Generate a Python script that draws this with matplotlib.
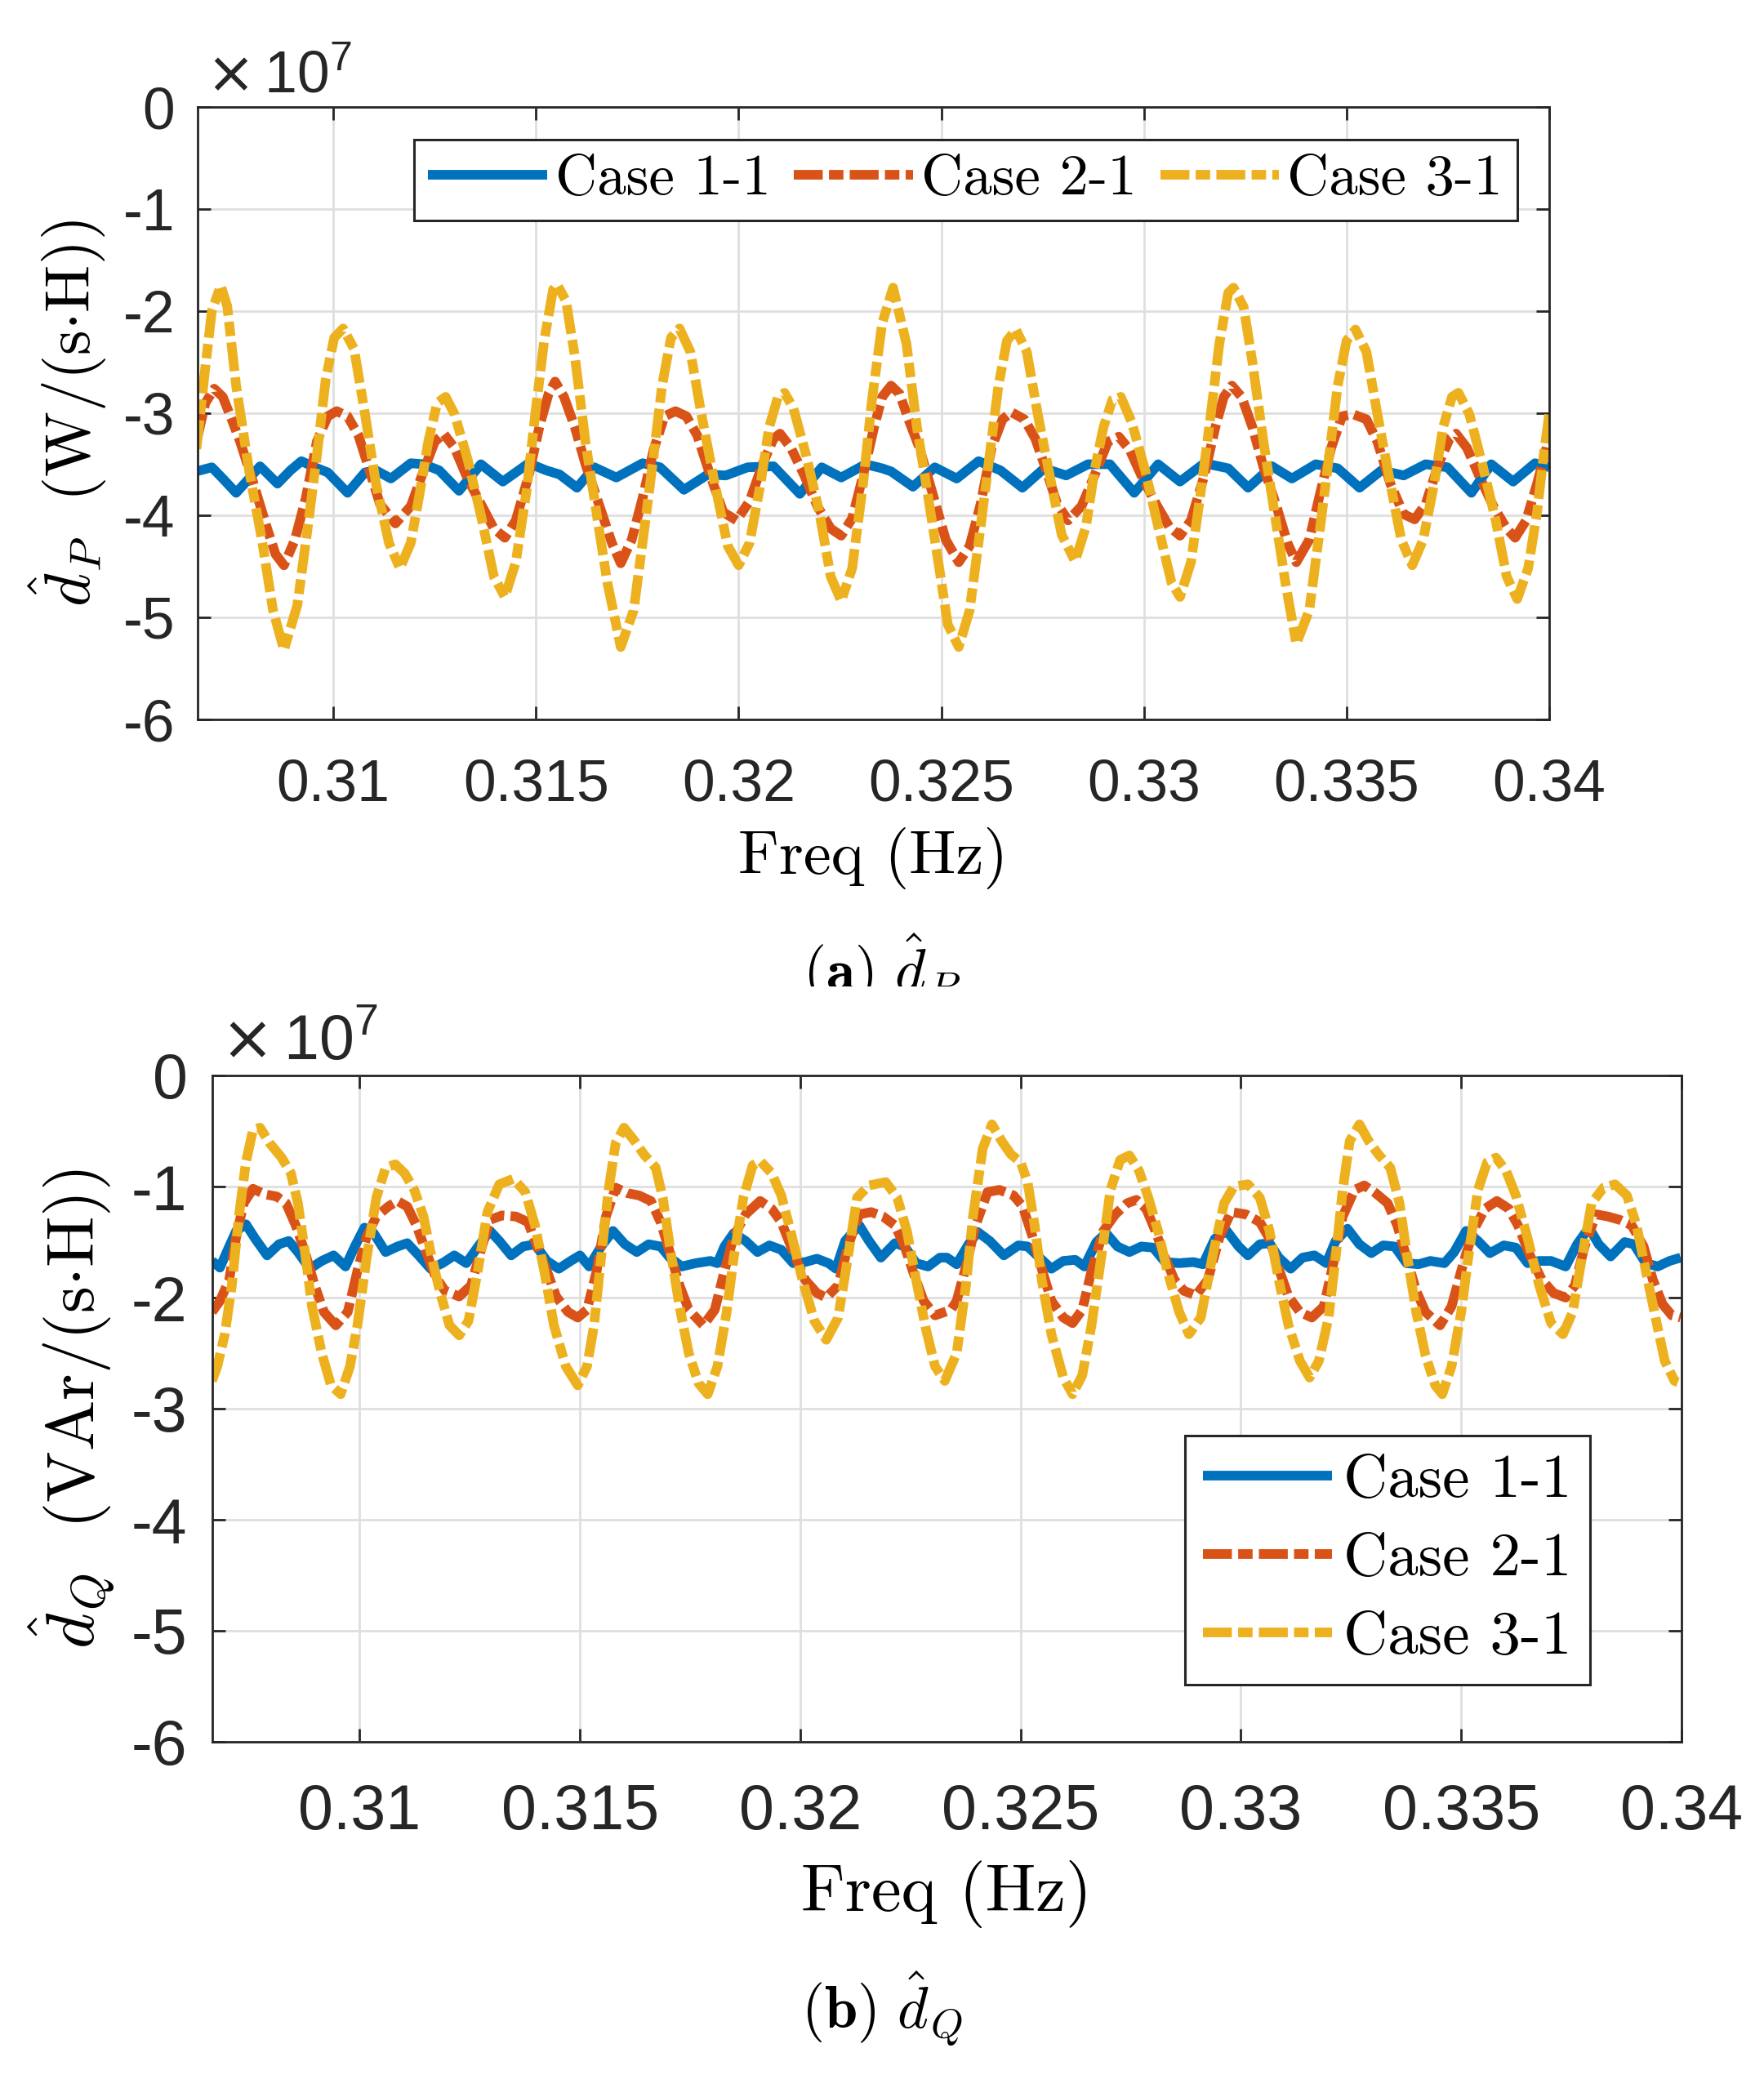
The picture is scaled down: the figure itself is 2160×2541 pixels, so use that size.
import numpy as np
import matplotlib
matplotlib.use("Agg")
import matplotlib.pyplot as plt
from matplotlib.ticker import FuncFormatter, MultipleLocator
from matplotlib.patches import Rectangle
from matplotlib.font_manager import FontProperties

plt.rcParams['font.family'] = ['Liberation Sans', 'DejaVu Sans']
plt.rcParams['mathtext.fontset'] = 'cm'
plt.rcParams['axes.unicode_minus'] = False

Y_SCALE = 1e7  # values below are read in units of 1e7

# ---------------- (a) d_P ----------------
freq_p1 = [0.30662, 0.30700, 0.30727, 0.30760, 0.30792, 0.30819, 0.30862, 0.30894, 0.30921, 0.30954,
           0.30986, 0.31035, 0.31078, 0.31105, 0.31142, 0.31191, 0.31223, 0.31261, 0.31310, 0.31364,
           0.31418, 0.31482, 0.31525, 0.31558, 0.31601, 0.31644, 0.31698, 0.31763, 0.31806, 0.31865,
           0.31924, 0.31968, 0.32022, 0.32086, 0.32151, 0.32205, 0.32253, 0.32313, 0.32354, 0.32376,
           0.32430, 0.32484, 0.32538, 0.32592, 0.32646, 0.32700, 0.32754, 0.32808, 0.32862, 0.32916,
           0.32976, 0.33035, 0.33089, 0.33149, 0.33208, 0.33257, 0.33316, 0.33365, 0.33424, 0.33478,
           0.33532, 0.33586, 0.33641, 0.33695, 0.33749, 0.33808, 0.33857, 0.33911, 0.33965, 0.34000]
dp_case1 = [-3.57, -3.53, -3.64, -3.78, -3.64, -3.52, -3.69, -3.56, -3.47, -3.53,
            -3.58, -3.78, -3.58, -3.56, -3.64, -3.49, -3.50, -3.56, -3.76, -3.50,
            -3.67, -3.49, -3.56, -3.60, -3.73, -3.53, -3.63, -3.49, -3.53, -3.75,
            -3.60, -3.61, -3.53, -3.52, -3.79, -3.53, -3.63, -3.50, -3.54, -3.57,
            -3.72, -3.53, -3.64, -3.47, -3.56, -3.73, -3.54, -3.61, -3.50, -3.50,
            -3.78, -3.50, -3.67, -3.49, -3.54, -3.73, -3.52, -3.64, -3.50, -3.54,
            -3.73, -3.56, -3.61, -3.50, -3.53, -3.78, -3.50, -3.67, -3.49, -3.53]

freq_p2 = [0.30662, 0.30684, 0.30706, 0.30727, 0.30749, 0.30770, 0.30803, 0.30835, 0.30857, 0.30878,
           0.30905, 0.30932, 0.30959, 0.30986, 0.31008, 0.31035, 0.31062, 0.31089, 0.31115, 0.31153,
           0.31191, 0.31223, 0.31250, 0.31272, 0.31299, 0.31331, 0.31364, 0.31396, 0.31423, 0.31450,
           0.31482, 0.31509, 0.31531, 0.31547, 0.31569, 0.31596, 0.31622, 0.31655, 0.31687, 0.31709,
           0.31736, 0.31763, 0.31790, 0.31817, 0.31844, 0.31871, 0.31898, 0.31930, 0.31962, 0.31995,
           0.32027, 0.32059, 0.32086, 0.32102, 0.32129, 0.32162, 0.32194, 0.32227, 0.32253, 0.32280,
           0.32307, 0.32334, 0.32354, 0.32376, 0.32397, 0.32419, 0.32446, 0.32478, 0.32511, 0.32543,
           0.32570, 0.32597, 0.32624, 0.32651, 0.32673, 0.32705, 0.32732, 0.32759, 0.32786, 0.32813,
           0.32846, 0.32878, 0.32911, 0.32938, 0.32965, 0.32997, 0.33030, 0.33062, 0.33089, 0.33116,
           0.33149, 0.33176, 0.33197, 0.33217, 0.33241, 0.33268, 0.33295, 0.33327, 0.33354, 0.33376,
           0.33408, 0.33435, 0.33462, 0.33489, 0.33516, 0.33549, 0.33576, 0.33608, 0.33641, 0.33668,
           0.33695, 0.33727, 0.33754, 0.33770, 0.33797, 0.33830, 0.33862, 0.33895, 0.33916, 0.33943,
           0.33970, 0.33992, 0.34000]
dp_case2 = [-3.28, -2.90, -2.76, -2.84, -3.06, -3.28, -3.69, -4.11, -4.38, -4.49,
            -4.24, -3.83, -3.28, -3.03, -2.98, -3.03, -3.22, -3.56, -3.89, -4.08,
            -3.91, -3.56, -3.28, -3.20, -3.34, -3.64, -3.89, -4.13, -4.22, -4.05,
            -3.61, -3.12, -2.81, -2.69, -2.84, -3.14, -3.50, -3.89, -4.27, -4.47,
            -4.24, -3.83, -3.36, -3.03, -2.98, -3.03, -3.22, -3.61, -3.97, -4.05,
            -3.86, -3.50, -3.25, -3.20, -3.34, -3.61, -3.91, -4.13, -4.20, -4.03,
            -3.61, -3.14, -2.84, -2.73, -2.81, -3.06, -3.34, -3.78, -4.24, -4.46,
            -4.30, -3.89, -3.34, -3.06, -2.99, -3.06, -3.25, -3.56, -3.89, -4.05,
            -3.91, -3.61, -3.28, -3.23, -3.36, -3.64, -3.89, -4.11, -4.20, -4.05,
            -3.61, -3.14, -2.84, -2.73, -2.84, -3.14, -3.53, -3.91, -4.27, -4.46,
            -4.24, -3.78, -3.34, -3.03, -3.01, -3.06, -3.28, -3.69, -3.99, -4.04,
            -3.89, -3.50, -3.25, -3.20, -3.34, -3.64, -3.91, -4.13, -4.22, -4.05,
            -3.69, -3.36, -3.22]

freq_p3 = [0.30662, 0.30684, 0.30700, 0.30722, 0.30738, 0.30760, 0.30792, 0.30824, 0.30851, 0.30878,
           0.30911, 0.30937, 0.30959, 0.30981, 0.31002, 0.31024, 0.31051, 0.31078, 0.31105, 0.31137,
           0.31164, 0.31191, 0.31213, 0.31234, 0.31256, 0.31277, 0.31299, 0.31331, 0.31364, 0.31396,
           0.31423, 0.31450, 0.31477, 0.31498, 0.31520, 0.31542, 0.31552, 0.31574, 0.31596, 0.31622,
           0.31649, 0.31676, 0.31709, 0.31741, 0.31768, 0.31790, 0.31811, 0.31833, 0.31854, 0.31881,
           0.31908, 0.31941, 0.31973, 0.32000, 0.32027, 0.32054, 0.32075, 0.32097, 0.32113, 0.32135,
           0.32167, 0.32199, 0.32227, 0.32253, 0.32280, 0.32307, 0.32329, 0.32354, 0.32381, 0.32414,
           0.32440, 0.32468, 0.32495, 0.32516, 0.32543, 0.32570, 0.32597, 0.32619, 0.32641, 0.32662,
           0.32684, 0.32711, 0.32738, 0.32765, 0.32797, 0.32830, 0.32857, 0.32878, 0.32900, 0.32922,
           0.32943, 0.32970, 0.33003, 0.33035, 0.33068, 0.33089, 0.33116, 0.33143, 0.33165, 0.33186,
           0.33208, 0.33221, 0.33246, 0.33268, 0.33295, 0.33322, 0.33349, 0.33376, 0.33408, 0.33435,
           0.33457, 0.33478, 0.33500, 0.33522, 0.33549, 0.33576, 0.33608, 0.33635, 0.33662, 0.33689,
           0.33716, 0.33738, 0.33760, 0.33776, 0.33803, 0.33835, 0.33868, 0.33895, 0.33921, 0.33948,
           0.33970, 0.33986, 0.34000]
dp_case3 = [-3.35, -2.55, -2.00, -1.75, -1.95, -2.73, -3.56, -4.25, -4.93, -5.32,
            -4.88, -4.11, -3.42, -2.67, -2.26, -2.17, -2.37, -3.01, -3.69, -4.27,
            -4.52, -4.27, -3.78, -3.28, -2.90, -2.84, -3.01, -3.45, -4.00, -4.60,
            -4.80, -4.46, -3.75, -3.01, -2.29, -1.79, -1.74, -1.90, -2.45, -3.28,
            -3.97, -4.66, -5.29, -4.93, -4.11, -3.42, -2.73, -2.26, -2.17, -2.40,
            -3.01, -3.69, -4.30, -4.49, -4.27, -3.69, -3.14, -2.84, -2.80, -2.95,
            -3.42, -3.97, -4.60, -4.84, -4.52, -3.69, -2.87, -2.12, -1.77, -2.32,
            -3.14, -3.83, -4.52, -5.07, -5.29, -4.93, -4.11, -3.42, -2.73, -2.29,
            -2.18, -2.40, -3.01, -3.56, -4.19, -4.45, -4.11, -3.56, -3.14, -2.87,
            -2.84, -3.09, -3.56, -4.11, -4.66, -4.80, -4.46, -3.69, -3.01, -2.32,
            -1.82, -1.77, -1.96, -2.51, -3.28, -3.97, -4.66, -5.26, -4.93, -4.11,
            -3.42, -2.73, -2.29, -2.18, -2.40, -3.01, -3.69, -4.24, -4.49, -4.24,
            -3.69, -3.14, -2.84, -2.80, -3.01, -3.50, -4.05, -4.60, -4.82, -4.52,
            -3.97, -3.42, -3.01]

# ---------------- (b) d_Q ----------------
freq_q1 = [0.30665, 0.30683, 0.30704, 0.30720, 0.30742, 0.30763, 0.30790, 0.30817, 0.30839, 0.30860,
           0.30887, 0.30914, 0.30941, 0.30968, 0.30989, 0.31011, 0.31032, 0.31059, 0.31086, 0.31108,
           0.31134, 0.31161, 0.31188, 0.31215, 0.31242, 0.31269, 0.31296, 0.31317, 0.31344, 0.31371,
           0.31398, 0.31425, 0.31452, 0.31479, 0.31500, 0.31521, 0.31548, 0.31575, 0.31602, 0.31629,
           0.31656, 0.31683, 0.31704, 0.31731, 0.31763, 0.31796, 0.31812, 0.31828, 0.31849, 0.31876,
           0.31903, 0.31930, 0.31957, 0.31984, 0.32011, 0.32038, 0.32064, 0.32081, 0.32102, 0.32134,
           0.32156, 0.32183, 0.32215, 0.32237, 0.32263, 0.32290, 0.32317, 0.32333, 0.32355, 0.32382,
           0.32403, 0.32430, 0.32462, 0.32495, 0.32516, 0.32543, 0.32570, 0.32597, 0.32624, 0.32645,
           0.32672, 0.32694, 0.32720, 0.32747, 0.32774, 0.32801, 0.32828, 0.32860, 0.32892, 0.32914,
           0.32941, 0.32968, 0.32995, 0.33016, 0.33043, 0.33065, 0.33086, 0.33113, 0.33140, 0.33167,
           0.33194, 0.33215, 0.33242, 0.33269, 0.33296, 0.33323, 0.33349, 0.33376, 0.33403, 0.33430,
           0.33462, 0.33484, 0.33511, 0.33538, 0.33565, 0.33597, 0.33624, 0.33651, 0.33677, 0.33704,
           0.33737, 0.33763, 0.33790, 0.33812, 0.33839, 0.33871, 0.33892, 0.33919, 0.33946, 0.33973,
           0.33998]
dq_case1 = [-1.67, -1.73, -1.54, -1.40, -1.34, -1.47, -1.62, -1.52, -1.49, -1.59,
            -1.74, -1.67, -1.62, -1.72, -1.54, -1.37, -1.42, -1.59, -1.54, -1.51,
            -1.62, -1.74, -1.69, -1.62, -1.69, -1.54, -1.40, -1.49, -1.62, -1.54,
            -1.52, -1.67, -1.74, -1.67, -1.62, -1.72, -1.54, -1.40, -1.52, -1.59,
            -1.52, -1.54, -1.64, -1.72, -1.69, -1.67, -1.69, -1.54, -1.42, -1.49,
            -1.59, -1.53, -1.57, -1.69, -1.68, -1.65, -1.69, -1.74, -1.49, -1.35,
            -1.49, -1.64, -1.51, -1.54, -1.69, -1.72, -1.64, -1.64, -1.70, -1.52,
            -1.41, -1.49, -1.62, -1.53, -1.54, -1.64, -1.74, -1.67, -1.66, -1.72,
            -1.50, -1.42, -1.54, -1.59, -1.54, -1.55, -1.68, -1.69, -1.68, -1.70,
            -1.47, -1.40, -1.54, -1.62, -1.52, -1.51, -1.64, -1.74, -1.64, -1.62,
            -1.69, -1.49, -1.38, -1.52, -1.60, -1.53, -1.54, -1.69, -1.70, -1.67,
            -1.69, -1.59, -1.40, -1.49, -1.60, -1.53, -1.55, -1.69, -1.67, -1.67,
            -1.72, -1.52, -1.37, -1.52, -1.63, -1.50, -1.52, -1.69, -1.72, -1.67,
            -1.64]

freq_q2 = [0.30665, 0.30683, 0.30704, 0.30720, 0.30737, 0.30758, 0.30785, 0.30812, 0.30833, 0.30855,
           0.30876, 0.30898, 0.30919, 0.30946, 0.30973, 0.30995, 0.31016, 0.31038, 0.31065, 0.31086,
           0.31108, 0.31129, 0.31151, 0.31172, 0.31194, 0.31226, 0.31253, 0.31274, 0.31296, 0.31323,
           0.31355, 0.31382, 0.31403, 0.31425, 0.31446, 0.31473, 0.31495, 0.31516, 0.31538, 0.31559,
           0.31581, 0.31608, 0.31634, 0.31661, 0.31683, 0.31704, 0.31726, 0.31747, 0.31780, 0.31806,
           0.31828, 0.31849, 0.31876, 0.31909, 0.31935, 0.31957, 0.31984, 0.32011, 0.32038, 0.32059,
           0.32086, 0.32108, 0.32134, 0.32161, 0.32188, 0.32215, 0.32237, 0.32258, 0.32280, 0.32306,
           0.32342, 0.32355, 0.32376, 0.32398, 0.32425, 0.32452, 0.32484, 0.32505, 0.32527, 0.32548,
           0.32570, 0.32597, 0.32618, 0.32640, 0.32661, 0.32688, 0.32715, 0.32742, 0.32763, 0.32785,
           0.32806, 0.32828, 0.32849, 0.32871, 0.32898, 0.32925, 0.32952, 0.32978, 0.33011, 0.33043,
           0.33065, 0.33086, 0.33108, 0.33134, 0.33161, 0.33188, 0.33210, 0.33231, 0.33258, 0.33280,
           0.33306, 0.33333, 0.33355, 0.33376, 0.33398, 0.33419, 0.33452, 0.33478, 0.33500, 0.33527,
           0.33554, 0.33581, 0.33608, 0.33629, 0.33656, 0.33683, 0.33710, 0.33737, 0.33758, 0.33780,
           0.33806, 0.33833, 0.33860, 0.33887, 0.33914, 0.33935, 0.33957, 0.33978, 0.33998]
dq_case2 = [-2.13, -2.03, -1.84, -1.45, -1.15, -1.02, -1.07, -1.09, -1.15, -1.35,
            -1.59, -1.89, -2.13, -2.25, -2.13, -1.76, -1.45, -1.27, -1.18, -1.13,
            -1.18, -1.35, -1.59, -1.81, -1.94, -1.99, -1.89, -1.59, -1.30, -1.26,
            -1.27, -1.32, -1.54, -1.76, -1.99, -2.13, -2.18, -2.11, -1.76, -1.27,
            -1.01, -1.06, -1.08, -1.13, -1.32, -1.59, -1.89, -2.11, -2.25, -2.11,
            -1.76, -1.45, -1.25, -1.13, -1.20, -1.32, -1.59, -1.84, -1.96, -2.00,
            -1.89, -1.54, -1.25, -1.23, -1.27, -1.35, -1.54, -1.79, -2.03, -2.16,
            -2.11, -2.03, -1.72, -1.35, -1.05, -1.03, -1.08, -1.18, -1.45, -1.74,
            -2.03, -2.18, -2.23, -2.11, -1.76, -1.40, -1.25, -1.15, -1.12, -1.20,
            -1.40, -1.64, -1.84, -1.94, -1.98, -1.84, -1.45, -1.23, -1.25, -1.32,
            -1.47, -1.74, -1.99, -2.13, -2.18, -2.08, -1.69, -1.27, -1.03, -0.99,
            -1.06, -1.15, -1.35, -1.64, -1.94, -2.13, -2.25, -2.08, -1.76, -1.40,
            -1.20, -1.13, -1.20, -1.35, -1.62, -1.84, -1.96, -2.00, -1.89, -1.54,
            -1.25, -1.27, -1.30, -1.35, -1.54, -1.84, -2.06, -2.16, -2.18]

freq_q3 = [0.30665, 0.30677, 0.30694, 0.30710, 0.30726, 0.30742, 0.30758, 0.30774, 0.30796, 0.30823,
           0.30844, 0.30860, 0.30876, 0.30892, 0.30914, 0.30935, 0.30957, 0.30978, 0.30995, 0.31016,
           0.31038, 0.31059, 0.31081, 0.31102, 0.31124, 0.31145, 0.31161, 0.31183, 0.31204, 0.31226,
           0.31247, 0.31269, 0.31290, 0.31317, 0.31349, 0.31376, 0.31398, 0.31419, 0.31441, 0.31468,
           0.31495, 0.31516, 0.31532, 0.31548, 0.31565, 0.31581, 0.31600, 0.31624, 0.31645, 0.31672,
           0.31688, 0.31704, 0.31726, 0.31747, 0.31769, 0.31790, 0.31812, 0.31833, 0.31849, 0.31871,
           0.31892, 0.31909, 0.31935, 0.31957, 0.31978, 0.32005, 0.32032, 0.32059, 0.32086, 0.32108,
           0.32129, 0.32156, 0.32194, 0.32220, 0.32242, 0.32263, 0.32285, 0.32306, 0.32328, 0.32355,
           0.32376, 0.32392, 0.32414, 0.32435, 0.32457, 0.32478, 0.32500, 0.32516, 0.32532, 0.32548,
           0.32570, 0.32597, 0.32618, 0.32640, 0.32661, 0.32683, 0.32704, 0.32726, 0.32747, 0.32769,
           0.32790, 0.32812, 0.32833, 0.32860, 0.32882, 0.32909, 0.32935, 0.32962, 0.32984, 0.33016,
           0.33043, 0.33065, 0.33086, 0.33108, 0.33134, 0.33156, 0.33177, 0.33199, 0.33215, 0.33231,
           0.33247, 0.33269, 0.33290, 0.33312, 0.33339, 0.33360, 0.33376, 0.33398, 0.33419, 0.33441,
           0.33457, 0.33478, 0.33500, 0.33516, 0.33538, 0.33559, 0.33579, 0.33602, 0.33624, 0.33651,
           0.33677, 0.33704, 0.33731, 0.33753, 0.33774, 0.33796, 0.33823, 0.33849, 0.33876, 0.33898,
           0.33919, 0.33941, 0.33962, 0.33984, 0.33998]
dq_case3 = [-2.75, -2.62, -2.33, -1.89, -1.27, -0.78, -0.49, -0.47, -0.61, -0.74,
            -0.88, -1.15, -1.59, -2.08, -2.50, -2.79, -2.87, -2.62, -2.25, -1.64,
            -1.10, -0.83, -0.80, -0.88, -1.03, -1.27, -1.59, -1.96, -2.25, -2.34,
            -2.21, -1.74, -1.23, -0.98, -0.93, -1.05, -1.35, -1.76, -2.25, -2.62,
            -2.79, -2.62, -2.25, -1.64, -1.03, -0.61, -0.47, -0.59, -0.71, -0.83,
            -1.10, -1.54, -2.08, -2.50, -2.77, -2.87, -2.62, -2.13, -1.64, -1.10,
            -0.81, -0.77, -0.88, -1.08, -1.40, -1.84, -2.21, -2.38, -2.18, -1.64,
            -1.10, -0.99, -0.96, -1.10, -1.40, -1.84, -2.28, -2.62, -2.75, -2.50,
            -1.89, -1.27, -0.66, -0.44, -0.59, -0.71, -0.78, -0.96, -1.35, -1.84,
            -2.33, -2.72, -2.87, -2.70, -2.25, -1.64, -1.03, -0.76, -0.72, -0.86,
            -1.10, -1.40, -1.76, -2.13, -2.33, -2.18, -1.64, -1.15, -1.00, -0.98,
            -1.10, -1.40, -1.84, -2.25, -2.57, -2.72, -2.57, -2.18, -1.64, -1.03,
            -0.59, -0.44, -0.59, -0.71, -0.83, -1.15, -1.59, -2.13, -2.52, -2.79,
            -2.87, -2.62, -2.13, -1.64, -1.03, -0.78, -0.74, -0.86, -1.08, -1.47,
            -1.89, -2.23, -2.33, -2.13, -1.64, -1.15, -1.01, -0.98, -1.08, -1.35,
            -1.76, -2.18, -2.57, -2.75, -2.77]

case_labels = ['Case 1-1', 'Case 2-1', 'Case 3-1']
case_colors = ['#0072BD', '#D95319', '#EDB120']
x_ticks = [0.31, 0.315, 0.32, 0.325, 0.33, 0.335, 0.34]
x_range = (0.30665, 0.34)
y_range = (-6, 0)

LW = 8.5
DASHDOT = (3.0, 0.65, 1.5, 0.65)
EDGE = '#262626'

fig = plt.figure(figsize=(21.6, 25.41), dpi=100)


def make_axes(rect, freqs, series, scale, xpad):
    ax = fig.add_axes(rect)
    ax.set_zorder(3)
    for i, (f, v) in enumerate(zip(freqs, series)):
        ln, = ax.plot(f, np.array(v) * Y_SCALE, color=case_colors[i], lw=LW,
                      label=case_labels[i], solid_capstyle='butt', dash_capstyle='butt',
                      solid_joinstyle='round', dash_joinstyle='round')
        if i > 0:
            ln.set_dashes(DASHDOT)
    ax.set_xlim(*x_range)
    ax.set_ylim(y_range[0] * Y_SCALE, y_range[1] * Y_SCALE)
    ax.set_xticks(x_ticks)
    ax.yaxis.set_major_locator(MultipleLocator(Y_SCALE))
    ax.xaxis.set_major_formatter(FuncFormatter(lambda x, p: '%g' % round(x, 4)))
    ax.yaxis.set_major_formatter(FuncFormatter(lambda y, p: '%g' % round(y / Y_SCALE, 3)))
    ax.grid(True, color='#dfdfdf', linewidth=2.0)
    ax.set_axisbelow(True)
    for s in ax.spines.values():
        s.set_linewidth(2.0)
        s.set_color(EDGE)
    ax.tick_params(direction='in', length=11.5, width=2.0, top=True, right=True,
                   color=EDGE, labelcolor=EDGE, labelsize=51.5 * scale)
    ax.tick_params(axis='x', pad=xpad)
    ax.tick_params(axis='y', pad=20 * scale)
    ax.text(0.006, 1.023, r'$\times\,\mathdefault{10}^{\mathdefault{7}}$', transform=ax.transAxes,
            fontsize=51.5 * scale, color=EDGE, va='baseline', ha='left',
            math_fontfamily='dejavusans')
    ax.set_xlabel('Freq (Hz)', fontfamily='cmr10', fontsize=55 * scale, color='black')
    return ax


# top panel
ax1 = make_axes([242 / 2160, 1 - 881 / 2541, 1655 / 2160, 750 / 2541],
                [freq_p1, freq_p2, freq_p3], [dp_case1, dp_case2, dp_case3], 1.0, 34)
ax1.set_ylabel(r'$\hat{d}_P\ \ (\mathrm{W/(s{\cdot}H)})$', fontsize=56, color='black')
ax1.xaxis.set_label_coords(0.5, -0.176)
ax1.yaxis.set_label_coords(-0.066, 0.5)
leg1 = ax1.legend(loc='upper right', bbox_to_anchor=(0.9764, 0.9467), ncol=3,
                  prop=FontProperties(family='cmr10', size=51), handlelength=2.05,
                  handletextpad=0.15, columnspacing=0.4, borderpad=0.25,
                  borderaxespad=0, fancybox=False, framealpha=1, edgecolor=EDGE)
leg1.get_frame().set_linewidth(2.2)

# bottom panel
ax2 = make_axes([259.6 / 2160, 1 - 2133 / 2541, 1799.4 / 2160, 816 / 2541],
                [freq_q1, freq_q2, freq_q3], [dq_case1, dq_case2, dq_case3], 1.08, 36)
ax2.set_ylabel(r'$\hat{d}_Q\ \ (\mathrm{VAr/(s{\cdot}H)})$', fontsize=60, color='black')
ax2.xaxis.set_label_coords(0.5, -0.178)
ax2.yaxis.set_label_coords(-0.065, 0.5)
leg2 = ax2.legend(loc='lower right', bbox_to_anchor=(0.9378, 0.0858), ncol=1,
                  prop=FontProperties(family='cmr10', size=54), handlelength=2.1,
                  handletextpad=0.19, labelspacing=0.38, borderpad=0.3,
                  borderaxespad=0, fancybox=False, framealpha=1, edgecolor=EDGE)
leg2.get_frame().set_linewidth(2.2)

# sub-captions; the lower half of (a) is hidden behind panel (b)
fig.text(0.5, 1 - 1212 / 2541, r'$\mathbf{(a)}\ \hat{d}_P$', ha='center', va='baseline',
         fontsize=52, zorder=1)
fig.add_artist(Rectangle((0, 1 - 1300 / 2541), 1, 92 / 2541, transform=fig.transFigure,
                         facecolor='white', edgecolor='none', zorder=2))
fig.text(0.5, 1 - 2484 / 2541, r'$\mathbf{(b)}\ \hat{d}_Q$', ha='center', va='baseline',
         fontsize=52, zorder=1)

fig.savefig('out.png', dpi=100)
